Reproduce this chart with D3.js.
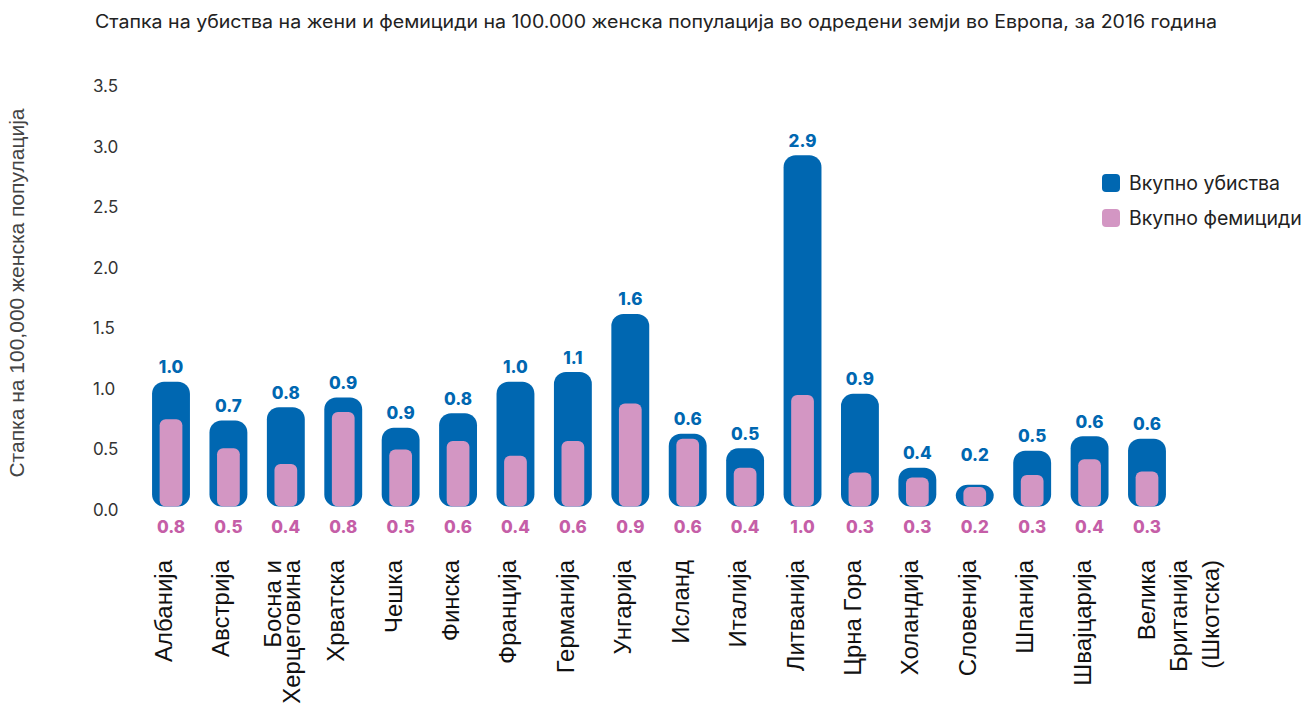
<html>
<head>
<meta charset="utf-8">
<title>Femicide rates</title>
<script src="https://d3js.org/d3.v7.min.js"></script>
<style>
  body { margin: 0; background: #fff; }
</style>
</head>
<body>
<svg width="1315" height="715"></svg>
<script>
// data
var countries = ["Албанија", "Австрија", "Босна и\nХерцеговина", "Хрватска", "Чешка", "Финска",
    "Франција", "Германија", "Унгарија", "Исланд", "Италија", "Литванија", "Црна Гора",
    "Холандија", "Словенија", "Шпанија", "Швајцарија", "Велика\nБританија\n(Шкотска)"];
// bar heights as drawn
var murderRate = [1.03, 0.71, 0.82, 0.90, 0.65, 0.77, 1.03, 1.11, 1.59, 0.60, 0.48, 2.90, 0.93, 0.32, 0.18, 0.46, 0.58, 0.56];
var femicideRate = [0.72, 0.48, 0.35, 0.78, 0.47, 0.54, 0.42, 0.54, 0.85, 0.56, 0.32, 0.92, 0.28, 0.24, 0.16, 0.26, 0.39, 0.29];
// value labels as printed
var murderLabels = ["1.0", "0.7", "0.8", "0.9", "0.9", "0.8", "1.0", "1.1", "1.6", "0.6", "0.5", "2.9", "0.9", "0.4", "0.2", "0.5", "0.6", "0.6"];
var femicideLabels = ["0.8", "0.5", "0.4", "0.8", "0.5", "0.6", "0.4", "0.6", "0.9", "0.6", "0.4", "1.0", "0.3", "0.3", "0.2", "0.3", "0.4", "0.3"];
var yTicks = [0, 0.5, 1, 1.5, 2, 2.5, 3, 3.5];
var seriesNames = ["Вкупно убиства", "Вкупно фемициди"];

var blue = "#0067b1", pink = "#d396c3", pinkText = "#c55ea7";
var sans = "Inter, 'Noto Sans', sans-serif";
var arial = "'Liberation Sans', Arial, sans-serif";

var svg = d3.select("svg");

var data = countries.map(function(c, i) {
    return {name: c, m: murderRate[i], f: femicideRate[i], ml: murderLabels[i], fl: femicideLabels[i]};
});

var x = d3.scaleBand()
    .domain(d3.range(countries.length))
    .range([142.3, 1175.7])
    .paddingInner(0.34)
    .paddingOuter(0.17);
var y = d3.scaleLinear().domain([0, 3.5]).range([506.5, 82.6]);

// title
svg.append("text")
    .attr("x", 95).attr("y", 28)
    .attr("font-family", sans).attr("font-size", 18)
    .attr("fill", "#222")
    .attr("textLength", 1122).attr("lengthAdjust", "spacingAndGlyphs")
    .text("Стапка на убиства на жени и фемициди на 100.000 женска популација во одредени земји во Европа, за 2016 година");

// y axis (labels only)
var yAxis = svg.append("g")
    .attr("transform", "translate(93,0)")
    .call(d3.axisRight(y).tickValues(yTicks).tickFormat(d3.format(".1f")).tickSize(0).tickPadding(0));
yAxis.select(".domain").remove();
yAxis.selectAll("text")
    .attr("font-family", sans).attr("font-size", 17).attr("fill", "#333")
    .attr("dy", "0.52em");

svg.append("text")
    .attr("transform", "translate(24,293) rotate(-90)")
    .attr("text-anchor", "middle")
    .attr("font-family", arial).attr("font-size", 21).attr("fill", "#444")
    .text("Стапка на 100,000 женска популација");

// bars
var bar = svg.append("g").selectAll("g")
    .data(data).enter().append("g");

bar.append("rect")
    .attr("x", (d, i) => x(i))
    .attr("width", x.bandwidth())
    .attr("y", d => y(d.m))
    .attr("height", d => y(0) - y(d.m))
    .attr("rx", 12)
    .attr("fill", blue);

var pinkW = x.bandwidth() * 0.6;
bar.append("rect")
    .attr("x", (d, i) => x(i) + (x.bandwidth() - pinkW) / 2)
    .attr("width", pinkW)
    .attr("y", d => y(d.f))
    .attr("height", d => y(0) - y(d.f))
    .attr("rx", 6)
    .attr("fill", pink);

bar.append("text")
    .attr("x", (d, i) => x(i) + x.bandwidth() / 2)
    .attr("y", d => Math.min(y(d.m), 469) - 8.5)
    .attr("text-anchor", "middle")
    .attr("font-family", sans).attr("font-weight", 800).attr("font-size", 17)
    .attr("fill", blue)
    .text(d => d.ml);

bar.append("text")
    .attr("x", (d, i) => x(i) + x.bandwidth() / 2)
    .attr("y", 533)
    .attr("text-anchor", "middle")
    .attr("font-family", sans).attr("font-weight", 800).attr("font-size", 17)
    .attr("fill", pinkText)
    .text(d => d.fl);

// category labels, rotated
var lab = svg.append("g").selectAll("text")
    .data(data).enter().append("text")
    .attr("transform", (d, i) => "translate(" + (x(i) + x.bandwidth() / 2) + ",560) rotate(-90)")
    .attr("text-anchor", "end")
    .attr("font-family", arial).attr("font-size", 24).attr("fill", "#111");

lab.each(function(d) {
    var lines = d.name.split("\n");
    var n = lines.length;
    var first = n === 1 ? 1 : n === 2 ? -5 : 8;
    var gap = n === 3 ? 32 : 19;
    d3.select(this).selectAll("tspan")
        .data(lines).enter().append("tspan")
        .attr("x", 0)
        .attr("y", (l, j) => first + j * gap)
        .text(l => l);
});

// legend
var legend = svg.append("g").selectAll("g")
    .data(seriesNames).enter().append("g")
    .attr("transform", (d, i) => "translate(1102," + (174 + i * 35) + ")");
legend.append("rect")
    .attr("width", 18).attr("height", 18).attr("rx", 4)
    .attr("fill", (d, i) => i === 0 ? blue : pink);
legend.append("text")
    .attr("x", 27).attr("y", 9).attr("dy", "0.35em")
    .attr("font-family", sans).attr("font-size", 19.5).attr("fill", "#222")
    .text(d => d);
</script>
</body>
</html>
